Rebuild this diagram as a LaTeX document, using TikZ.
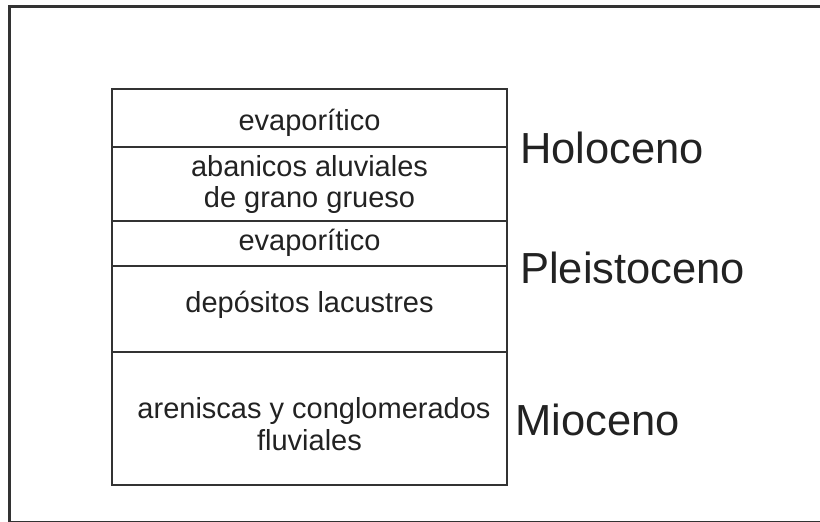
\documentclass[tikz,border=0pt]{standalone}
\usepackage{fontspec}
\setmainfont{Liberation Sans}
\definecolor{ink}{HTML}{222222}
\definecolor{rule}{HTML}{333333}
\begin{document}
\begin{tikzpicture}[x=1pt,y=-1pt,
  layertext/.style={anchor=base,inner sep=0pt,text=ink,font=\fontsize{29}{31}\selectfont},
  epoch/.style={anchor=base west,inner sep=0pt,text=ink,font=\fontsize{43.5}{46}\selectfont},
  layerline/.style={draw=rule,line width=2pt}]
\useasboundingbox (0,0) rectangle (820,522);
% outer frame (right side outside the picture)
\draw[draw=rule,line width=3pt] (9,6) rectangle (840,522.5);
% column
\draw[layerline] (112,89) rectangle (507,485);
\foreach \yy in {147,221,266,352}
  \draw[layerline] (112,\yy) -- (507,\yy);
% layer texts
\node[layertext] (evap1) at (309.5,130) {evaporítico};
\node[layertext] (aban1) at (309.5,176) {abanicos aluviales};
\node[layertext] (aban2) at (309.5,207) {de grano grueso};
\node[layertext] (evap2) at (309.5,250) {evaporítico};
\node[layertext] (lacu) at (309.5,312) {depósitos lacustres};
\node[layertext] (aren1) at (314,418) {areniscas y conglomerados};
\node[layertext] (aren2) at (309.5,450) {fluviales};
% epochs
\node[epoch] (holo) at (520,163) {Holoceno};
\node[epoch] (pleis) at (520,283) {Pleistoceno};
\node[epoch] (mio) at (515,435) {Mioceno};
\end{tikzpicture}
\end{document}
